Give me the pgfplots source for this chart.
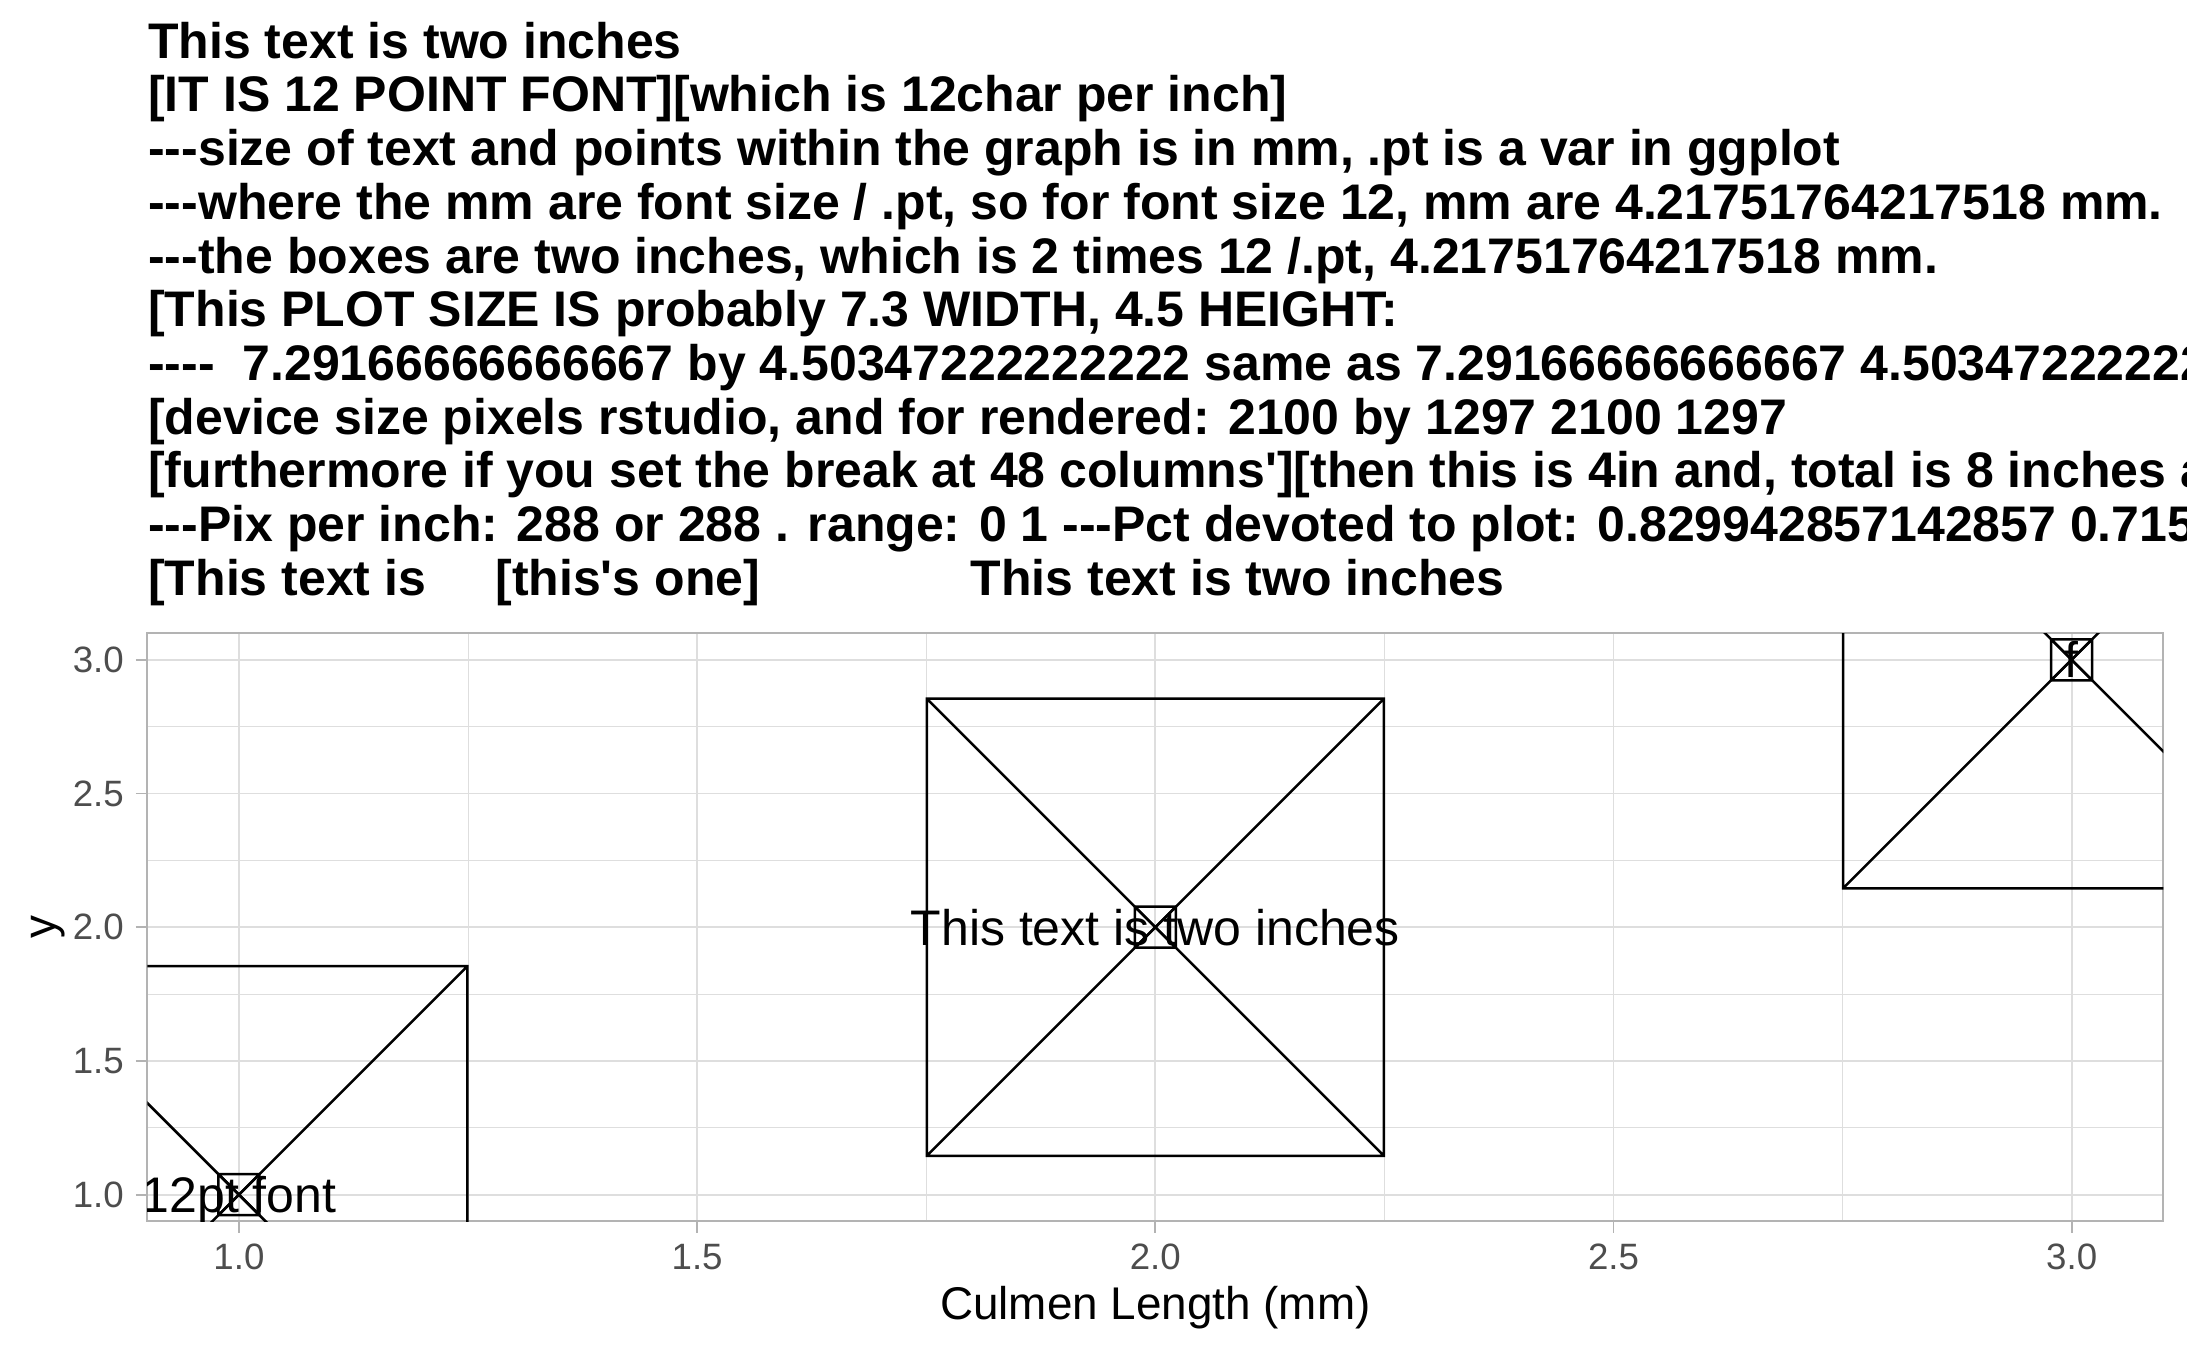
\documentclass[border=0pt]{standalone}
\usepackage{pgfplots}
\pgfplotsset{compat=1.18}
\usepackage{fontspec}
\setmainfont{Liberation Sans}[Ligatures=TeXOff]
\definecolor{gridc}{HTML}{DEDEDE}
\definecolor{borderc}{HTML}{B3B3B3}
\definecolor{ticklab}{HTML}{4D4D4D}
\pgfdeclareplotmark{sqx}{%
  \pgfpathrectangle{\pgfqpoint{-\pgfplotmarksize}{-\pgfplotmarksize}}{\pgfqpoint{2\pgfplotmarksize}{2\pgfplotmarksize}}%
  \pgfpathmoveto{\pgfqpoint{-\pgfplotmarksize}{-\pgfplotmarksize}}%
  \pgfpathlineto{\pgfqpoint{\pgfplotmarksize}{\pgfplotmarksize}}%
  \pgfpathmoveto{\pgfqpoint{-\pgfplotmarksize}{\pgfplotmarksize}}%
  \pgfpathlineto{\pgfqpoint{\pgfplotmarksize}{-\pgfplotmarksize}}%
  \pgfusepathqstroke}
\begin{document}
\begin{tikzpicture}
\path[use as bounding box] (0,0) rectangle (524.88bp,324.24bp);
\fill[white] (0,0) rectangle (524.88bp,324.24bp);
\clip (0,0) rectangle (524.88bp,324.24bp);
\begin{axis}[
  at={(35.35bp,31.10bp)}, anchor=south west,
  width=483.84bp, height=141.22bp, scale only axis,
  xmin=0.9, xmax=3.1, ymin=0.9, ymax=3.1,
  xtick={1,1.5,2,2.5,3}, ytick={1,1.5,2,2.5,3},
  xticklabels={1.0,1.5,2.0,2.5,3.0},
  yticklabels={1.0,1.5,2.0,2.5,3.0},
  minor tick num=1,
  grid=both,
  major grid style={draw=gridc, line width=0.4bp},
  minor grid style={draw=gridc, line width=0.25bp},
  axis line style={draw=borderc, line width=0.5bp},
  tick align=outside, tick pos=left,
  major tick length=2.75pt, minor tick length=0pt,
  major tick style={draw=borderc, line width=0.4bp},
  minor tick style={draw=none},
  ticklabel style={font=\fontsize{8.8bp}{10bp}\selectfont, text=ticklab, inner sep=0pt},
  xticklabel style={anchor=base, yshift=-8.86bp},
  yticklabel style={anchor=east, xshift=-2.7bp},
  xlabel={Culmen Length (mm)},
  ylabel={y},
  xlabel style={at={(axis description cs:0.5,0)}, anchor=base, yshift=-23.42bp, inner sep=0pt, font=\fontsize{11bp}{13bp}\selectfont},
  ylabel style={at={(axis description cs:-0.04557,0.5)}, anchor=base, inner sep=0pt, font=\fontsize{11bp}{13bp}\selectfont},
  clip marker paths=true,
]
\addplot[black, line width=0.6bp, only marks, mark=sqx, mark size=54.85bp] coordinates {(1,1) (2,2) (3,3)};
\addplot[black, line width=0.6bp, only marks, mark=sqx, mark size=4.92bp] coordinates {(1,1) (2,2) (3,3)};
\addplot[draw=none, mark=none, nodes near coords, point meta=explicit symbolic,
  nodes near coords align={anchor=base},
  every node near coord/.append style={anchor=base, yshift=-4.3bp, inner sep=0pt, text=black, font=\fontsize{12bp}{14bp}\selectfont}]
  coordinates {(1,1) [12pt font] (2,2) [This text is two inches] (3,3) [f]};
\end{axis}
\begin{scope}[every node/.style={anchor=base west, inner sep=0pt, font=\bfseries\fontsize{12bp}{14bp}\selectfont}]
\node at (35.4bp,310.25bp) {This text is two inches};
\node at (35.4bp,297.36bp) {[IT IS 12 POINT FONT][which is 12char per inch]};
\node at (35.4bp,284.47bp) {---size of text and points within the graph is in mm, .pt is a var in ggplot};
\node at (35.4bp,271.58bp) {---where the mm are font size / .pt, so for font size 12, mm are 4.21751764217518 mm.};
\node at (35.4bp,258.69bp) {---the boxes are two inches, which is 2 times 12 /.pt, 4.21751764217518 mm.};
\node at (35.4bp,245.80bp) {[This PLOT SIZE IS probably 7.3 WIDTH, 4.5 HEIGHT:};
\node at (35.4bp,232.91bp) {----\ \ 7.29166666666667 by 4.50347222222222 same as 7.29166666666667 4.50347222222222};
\node at (35.4bp,220.02bp) {[device size pixels rstudio, and for rendered: 2100 by 1297 2100 1297};
\node at (35.4bp,207.13bp) {[furthermore if you set the break at 48 columns'][then this is 4in and, total is 8 inches across]};
\node at (35.4bp,194.24bp) {---Pix per inch: 288 or 288 . range: 0 1 ---Pct devoted to plot: 0.829942857142857 0.715959903};
\node at (35.4bp,181.35bp) {\makebox[83.3bp][l]{[This text is}\makebox[114.1bp][l]{[this's one]}This text is two inches};
\end{scope}
\end{tikzpicture}
\end{document}
